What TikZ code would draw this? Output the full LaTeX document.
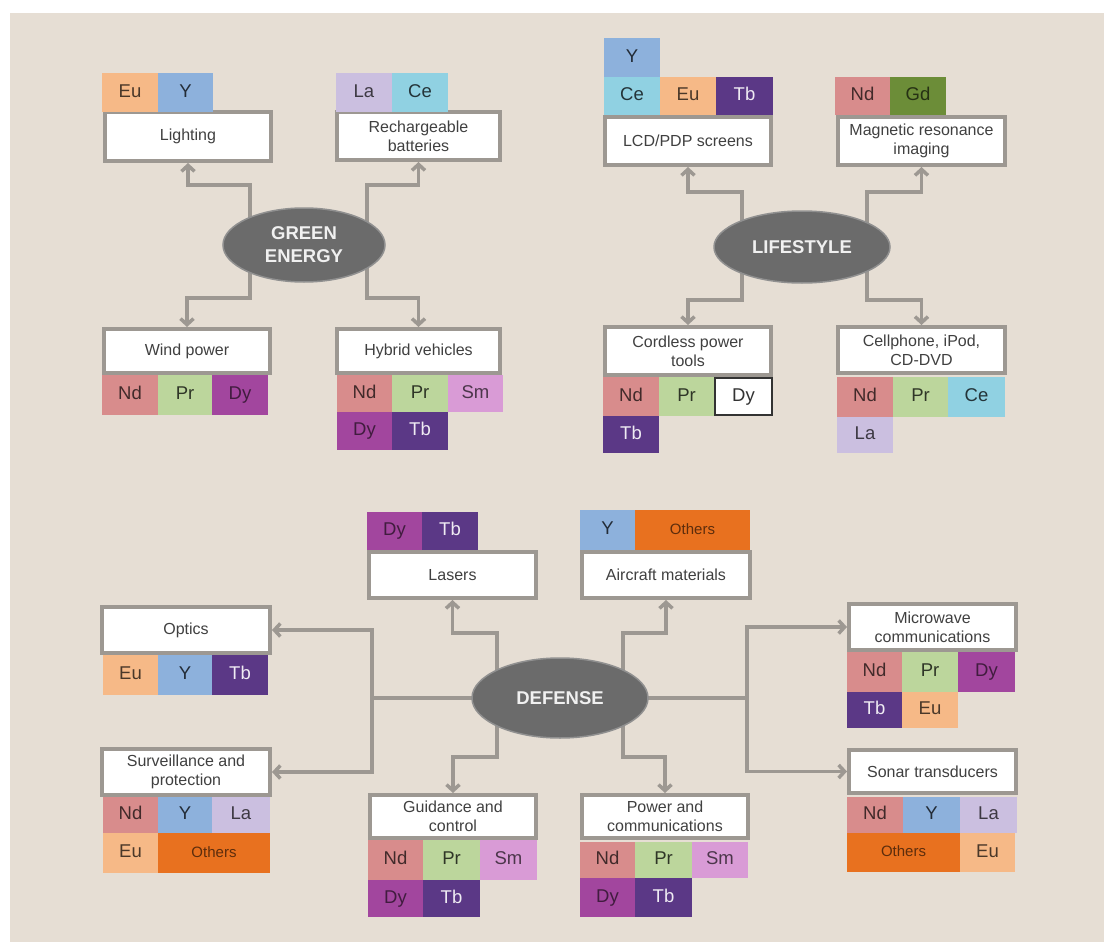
\documentclass[tikz,border=0pt]{standalone}
\usepackage{fontspec}
\setmainfont{Liberation Sans}
\usetikzlibrary{arrows.meta,shapes.geometric}
\definecolor{bg}{HTML}{E6DED4}
\definecolor{lg}{HTML}{9D9892}
\definecolor{lbltxt}{HTML}{404040}
\definecolor{hubc}{HTML}{6B6B6B}
\definecolor{cEu}{HTML}{F6B987}
\definecolor{cY}{HTML}{8DB1DC}
\definecolor{cLa}{HTML}{CBBFE0}
\definecolor{cCe}{HTML}{90D1E2}
\definecolor{cNd}{HTML}{D88C8C}
\definecolor{cPr}{HTML}{BCD69C}
\definecolor{cDy}{HTML}{A2469E}
\definecolor{cSm}{HTML}{D99BD6}
\definecolor{cTb}{HTML}{5B3886}
\definecolor{cGd}{HTML}{6C8D38}
\definecolor{cOt}{HTML}{E8711F}
\pgfdeclarelayer{back}
\pgfdeclarelayer{links}
\pgfsetlayers{back,links,main}
\tikzset{
  elc/.style={anchor=north west, inner sep=0pt, outer sep=0pt, text height=13pt, text depth=3.5pt,
    font=\fontsize{18.5}{20}\selectfont},
  eEu/.style={fill=cEu, text=cEu!30!black},
  eY/.style={fill=cY, text=cY!25!black},
  eLa/.style={fill=cLa, text=cLa!30!black},
  eCe/.style={fill=cCe, text=cCe!25!black},
  eNd/.style={fill=cNd, text=cNd!30!black},
  ePr/.style={fill=cPr, text=cPr!25!black},
  eDy/.style={fill=cDy, text=cDy!40!black},
  eSm/.style={fill=cSm, text=cSm!35!black},
  eTb/.style={fill=cTb, text=white!90!cTb},
  eGd/.style={fill=cGd, text=cGd!35!black},
  eOt/.style={fill=cOt, text=cOt!40!black, font=\fontsize{15}{18}\selectfont, text height=11pt, text depth=3pt},
  eWh/.style={fill=white, draw=black!80, line width=1.5pt, text=black!80, inner sep=0pt},
  lbl/.style={draw=lg, line width=4pt, fill=white, align=center, inner sep=1pt,
    text=lbltxt, font=\fontsize{16}{19}\selectfont},
  hub/.style={ellipse, fill=hubc, draw=hubc!75!white, line width=1.5pt, text=white!94!black,
    font=\bfseries\fontsize{18.5}{23}\selectfont, align=center, inner sep=0pt},
  conn/.style={draw=lg, line width=3.5pt, -{Straight Barb[length=6pt,width=13pt]}},
  seg/.style={draw=lg, line width=3.5pt},
}
\newcommand\el[7]{\node[elc,#6,minimum width=#4,minimum height=#5] (#1) at (#2,#3) {#7};}
\begin{document}
\begin{tikzpicture}[x=1pt,y=-1pt]
\useasboundingbox (0,0) rectangle (1104,942);
\begin{pgfonlayer}{back}
\fill[white] (0,0) rectangle (1104,942);
\fill[bg] (10,13) rectangle (1104,942);
\end{pgfonlayer}

% ---------- label boxes ----------
\node[lbl, minimum width=166, minimum height=49] (light) at (188,136.5) {Lighting};
\node[lbl, minimum width=163, minimum height=48] (rech) at (418.5,136) {Rechargeable\\batteries};
\node[lbl, minimum width=166, minimum height=44] (wind) at (187,351) {Wind power};
\node[lbl, minimum width=163, minimum height=44] (hyb) at (418.5,351) {Hybrid vehicles};
\node[lbl, minimum width=166, minimum height=48] (lcd) at (688,141) {LCD/PDP screens};
\node[lbl, minimum width=167, minimum height=48] (mri) at (921.5,141) {Magnetic resonance\\imaging};
\node[lbl, minimum width=166, minimum height=48] (cord) at (688,351) {Cordless power\\tools};
\node[lbl, minimum width=167, minimum height=46] (cell) at (921.5,350) {Cellphone, iPod,\\CD-DVD};
\node[lbl, minimum width=167, minimum height=46] (las) at (452.5,575) {Lasers};
\node[lbl, minimum width=168, minimum height=46] (air) at (666,575) {Aircraft materials};
\node[lbl, minimum width=168, minimum height=46] (opt) at (186,630) {Optics};
\node[lbl, minimum width=168, minimum height=46] (surv) at (186,772) {Surveillance and\\protection};
\node[lbl, minimum width=166, minimum height=43] (guid) at (453,816.5) {Guidance and\\control};
\node[lbl, minimum width=166, minimum height=43] (pow) at (665,816.5) {Power and\\communications};
\node[lbl, minimum width=167, minimum height=46] (micro) at (932.5,627) {Microwave\\communications};
\node[lbl, minimum width=167, minimum height=43] (sonar) at (932.5,771.5) {Sonar transducers};

% ---------- element cells ----------
% Green energy
\el{liEu}{102}{73}{56}{39}{eEu}{Eu}
\el{liY}{158}{73}{55}{39}{eY}{Y}
\el{reLa}{336}{73}{56}{39}{eLa}{La}
\el{reCe}{392}{73}{56}{39}{eCe}{Ce}
\el{wiNd}{102}{375}{56}{40}{eNd}{Nd}
\el{wiPr}{158}{375}{54}{40}{ePr}{Pr}
\el{wiDy}{212}{375}{56}{40}{eDy}{Dy}
\el{hyNd}{337}{375}{55}{37}{eNd}{Nd}
\el{hyPr}{392}{375}{56}{37}{ePr}{Pr}
\el{hySm}{448}{375}{55}{37}{eSm}{Sm}
\el{hyDy}{337}{412}{55}{38}{eDy}{Dy}
\el{hyTb}{392}{412}{56}{38}{eTb}{Tb}
% Lifestyle
\el{lcY}{604}{38}{56}{39}{eY}{Y}
\el{lcCe}{604}{77}{56}{38}{eCe}{Ce}
\el{lcEu}{660}{77}{56}{38}{eEu}{Eu}
\el{lcTb}{716}{77}{57}{38}{eTb}{Tb}
\el{mrNd}{835}{77}{55}{38}{eNd}{Nd}
\el{mrGd}{890}{77}{56}{38}{eGd}{Gd}
\el{coNd}{603}{377}{56}{39}{eNd}{Nd}
\el{coPr}{659}{377}{55}{39}{ePr}{Pr}
\node[elc, eWh, minimum width=57, minimum height=37] (coDy) at (715,378) {Dy};
\el{coTb}{603}{416}{56}{37}{eTb}{Tb}
\el{ceNd}{837}{377}{56}{40}{eNd}{Nd}
\el{cePr}{893}{377}{55}{40}{ePr}{Pr}
\el{ceCe}{948}{377}{57}{40}{eCe}{Ce}
\el{ceLa}{837}{417}{56}{36}{eLa}{La}
% Defense
\el{laDy}{367}{512}{55}{38}{eDy}{Dy}
\el{laTb}{422}{512}{56}{38}{eTb}{Tb}
\el{aiY}{580}{510}{55}{40}{eY}{Y}
\el{aiOt}{635}{510}{115}{40}{eOt}{Others}
\el{opEu}{103}{655}{55}{40}{eEu}{Eu}
\el{opY}{158}{655}{54}{40}{eY}{Y}
\el{opTb}{212}{655}{56}{40}{eTb}{Tb}
\el{suNd}{103}{797}{55}{36}{eNd}{Nd}
\el{suY}{158}{797}{54}{36}{eY}{Y}
\el{suLa}{212}{797}{58}{36}{eLa}{La}
\el{suEu}{103}{833}{55}{40}{eEu}{Eu}
\el{suOt}{158}{833}{112}{40}{eOt}{Others}
\el{guNd}{368}{840}{55}{40}{eNd}{Nd}
\el{guPr}{423}{840}{57}{40}{ePr}{Pr}
\el{guSm}{480}{840}{57}{40}{eSm}{Sm}
\el{guDy}{368}{880}{55}{37}{eDy}{Dy}
\el{guTb}{423}{880}{57}{37}{eTb}{Tb}
\el{poNd}{580}{842}{55}{36}{eNd}{Nd}
\el{poPr}{635}{842}{57}{36}{ePr}{Pr}
\el{poSm}{692}{842}{56}{36}{eSm}{Sm}
\el{poDy}{580}{878}{55}{39}{eDy}{Dy}
\el{poTb}{635}{878}{57}{39}{eTb}{Tb}
\el{miNd}{847}{652}{55}{40}{eNd}{Nd}
\el{miPr}{902}{652}{56}{40}{ePr}{Pr}
\el{miDy}{958}{652}{57}{40}{eDy}{Dy}
\el{miTb}{847}{692}{55}{36}{eTb}{Tb}
\el{miEu}{902}{692}{56}{36}{eEu}{Eu}
\el{soNd}{847}{797}{56}{36}{eNd}{Nd}
\el{soY}{903}{797}{57}{36}{eY}{Y}
\el{soLa}{960}{797}{57}{36}{eLa}{La}
\el{soOt}{847}{833}{113}{39}{eOt}{Others}
\el{soEu}{960}{833}{55}{39}{eEu}{Eu}

% ---------- hubs ----------
\node[hub, minimum width=162, minimum height=74] (ge) at (304,245) {GREEN\\ENERGY};
\node[hub, minimum width=176, minimum height=72] (life) at (802,247) {LIFESTYLE};
\node[hub, minimum width=176, minimum height=80] (def) at (560,698) {DEFENSE};

\coordinate (dl) at (372,698);
\coordinate (dr) at (747,698);

% ---------- connectors ----------
\begin{pgfonlayer}{links}
\draw[conn] ([xshift=-54pt]ge.center) |- ([yshift=-22pt]light.south) -- (light.south);
\draw[conn] ([xshift=63pt]ge.center) |- ([yshift=-23pt]rech.south) -- (rech.south);
\draw[conn] ([xshift=-54pt]ge.center) |- ([yshift=29pt]wind.north) -- (wind.north);
\draw[conn] ([xshift=63pt]ge.center) |- ([yshift=29pt]hyb.north) -- (hyb.north);

\draw[conn] ([xshift=-60pt]life.center) |- ([yshift=-25pt]lcd.south) -- (lcd.south);
\draw[conn] ([xshift=65pt]life.center) |- ([yshift=-25pt]mri.south) -- (mri.south);
\draw[conn] ([xshift=-60pt]life.center) |- ([yshift=25pt]cord.north) -- (cord.north);
\draw[conn] ([xshift=65pt]life.center) |- ([yshift=25pt]cell.north) -- (cell.north);

\draw[conn] ([xshift=-63pt]def.center) |- ([yshift=-33pt]las.south) -- (las.south);
\draw[conn] ([xshift=63pt]def.center) |- ([yshift=-33pt]air.south) -- (air.south);
\draw[conn] ([xshift=-63pt]def.center) |- ([yshift=36pt]guid.north) -- (guid.north);
\draw[conn] ([xshift=63pt]def.center) |- ([yshift=36pt]pow.north) -- (pow.north);

\draw[seg] (def.center) -- (dl);
\draw[conn] (dl) |- (opt.east);
\draw[conn] (dl) |- (surv.east);
\draw[seg] (def.center) -- (dr);
\draw[conn] (dr) |- (micro.west);
\draw[conn] (dr) |- (sonar.west);
\end{pgfonlayer}
\end{tikzpicture}
\end{document}
